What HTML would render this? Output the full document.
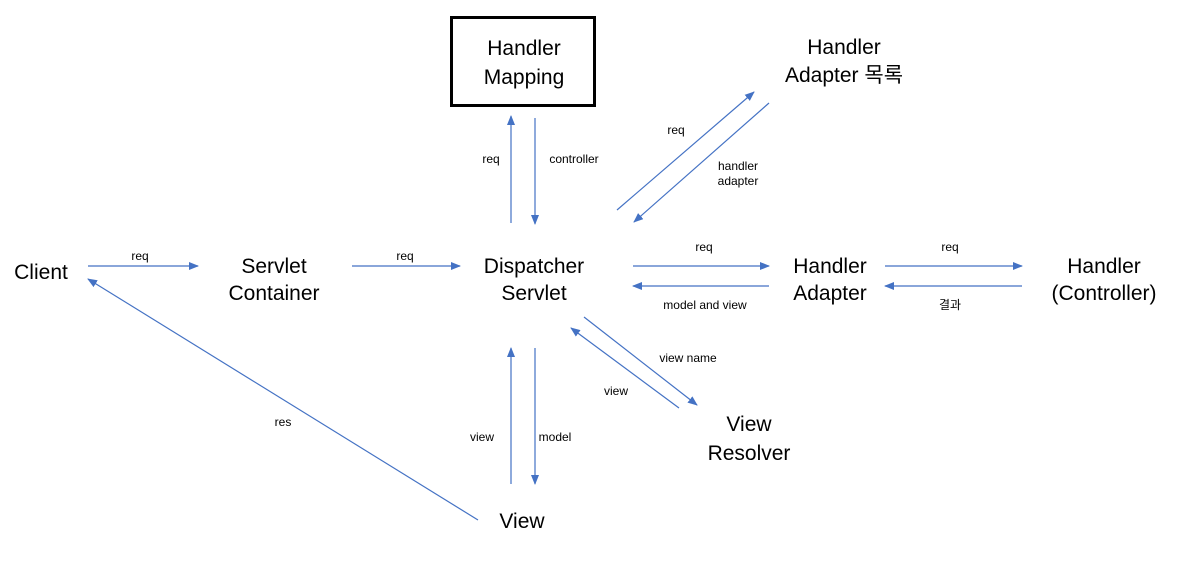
<!DOCTYPE html>
<html><head><meta charset="utf-8"><style>
html,body{margin:0;padding:0;background:#fff;}
svg{display:block;}
text{font-family:"Liberation Sans","Noto Sans CJK KR",sans-serif;fill:#000;text-anchor:middle;}
.b{font-size:21px;}
.s{font-size:12px;}
line{stroke:#4472c4;stroke-width:1.2;}
</style></head><body>
<svg width="1184" height="564" viewBox="0 0 1184 564">
<defs><marker id="a" markerWidth="10" markerHeight="8" refX="9" refY="4" orient="auto" markerUnits="userSpaceOnUse"><path d="M0,0 L10,4 L0,8 Z" fill="#4472c4"/></marker></defs>
<rect x="451.5" y="17.5" width="143" height="88" fill="none" stroke="#000" stroke-width="3"/>
<text class="b" x="524" y="55">Handler</text>
<text class="b" x="524" y="84">Mapping</text>
<text class="b" x="844" y="54">Handler</text>
<text class="b" x="844" y="82">Adapter 목록</text>
<text class="b" x="41" y="279">Client</text>
<text class="b" x="274" y="273">Servlet</text>
<text class="b" x="274" y="300">Container</text>
<text class="b" x="534" y="273">Dispatcher</text>
<text class="b" x="534" y="300">Servlet</text>
<text class="b" x="830" y="273">Handler</text>
<text class="b" x="830" y="300">Adapter</text>
<text class="b" x="1104" y="273">Handler</text>
<text class="b" x="1104" y="300">(Controller)</text>
<text class="b" x="749" y="431">View</text>
<text class="b" x="749" y="460">Resolver</text>
<text class="b" x="522" y="528">View</text>
<line x1="88" y1="266" x2="198" y2="266" marker-end="url(#a)"/>
<text class="s" x="140" y="260">req</text>
<line x1="352" y1="266" x2="460" y2="266" marker-end="url(#a)"/>
<text class="s" x="405" y="260">req</text>
<line x1="511" y1="223" x2="511" y2="116" marker-end="url(#a)"/>
<text class="s" x="491" y="163">req</text>
<line x1="535" y1="118" x2="535" y2="224" marker-end="url(#a)"/>
<text class="s" x="574" y="163">controller</text>
<line x1="617" y1="210" x2="754" y2="92" marker-end="url(#a)"/>
<text class="s" x="676" y="134">req</text>
<line x1="769" y1="103" x2="634" y2="222" marker-end="url(#a)"/>
<text class="s" x="738" y="170">handler</text>
<text class="s" x="738" y="185">adapter</text>
<line x1="633" y1="266" x2="769" y2="266" marker-end="url(#a)"/>
<text class="s" x="704" y="251">req</text>
<line x1="769" y1="286" x2="633" y2="286" marker-end="url(#a)"/>
<text class="s" x="705" y="309">model and view</text>
<line x1="885" y1="266" x2="1022" y2="266" marker-end="url(#a)"/>
<text class="s" x="950" y="251">req</text>
<line x1="1022" y1="286" x2="885" y2="286" marker-end="url(#a)"/>
<text class="s" x="950" y="309">결과</text>
<line x1="584" y1="317" x2="697" y2="405" marker-end="url(#a)"/>
<text class="s" x="688" y="362">view name</text>
<line x1="679" y1="408" x2="571" y2="328" marker-end="url(#a)"/>
<text class="s" x="616" y="395">view</text>
<line x1="511" y1="484" x2="511" y2="348" marker-end="url(#a)"/>
<text class="s" x="482" y="441">view</text>
<line x1="535" y1="348" x2="535" y2="484" marker-end="url(#a)"/>
<text class="s" x="555" y="441">model</text>
<line x1="478" y1="520" x2="88" y2="279" marker-end="url(#a)"/>
<text class="s" x="283" y="426">res</text>
</svg>
</body></html>
